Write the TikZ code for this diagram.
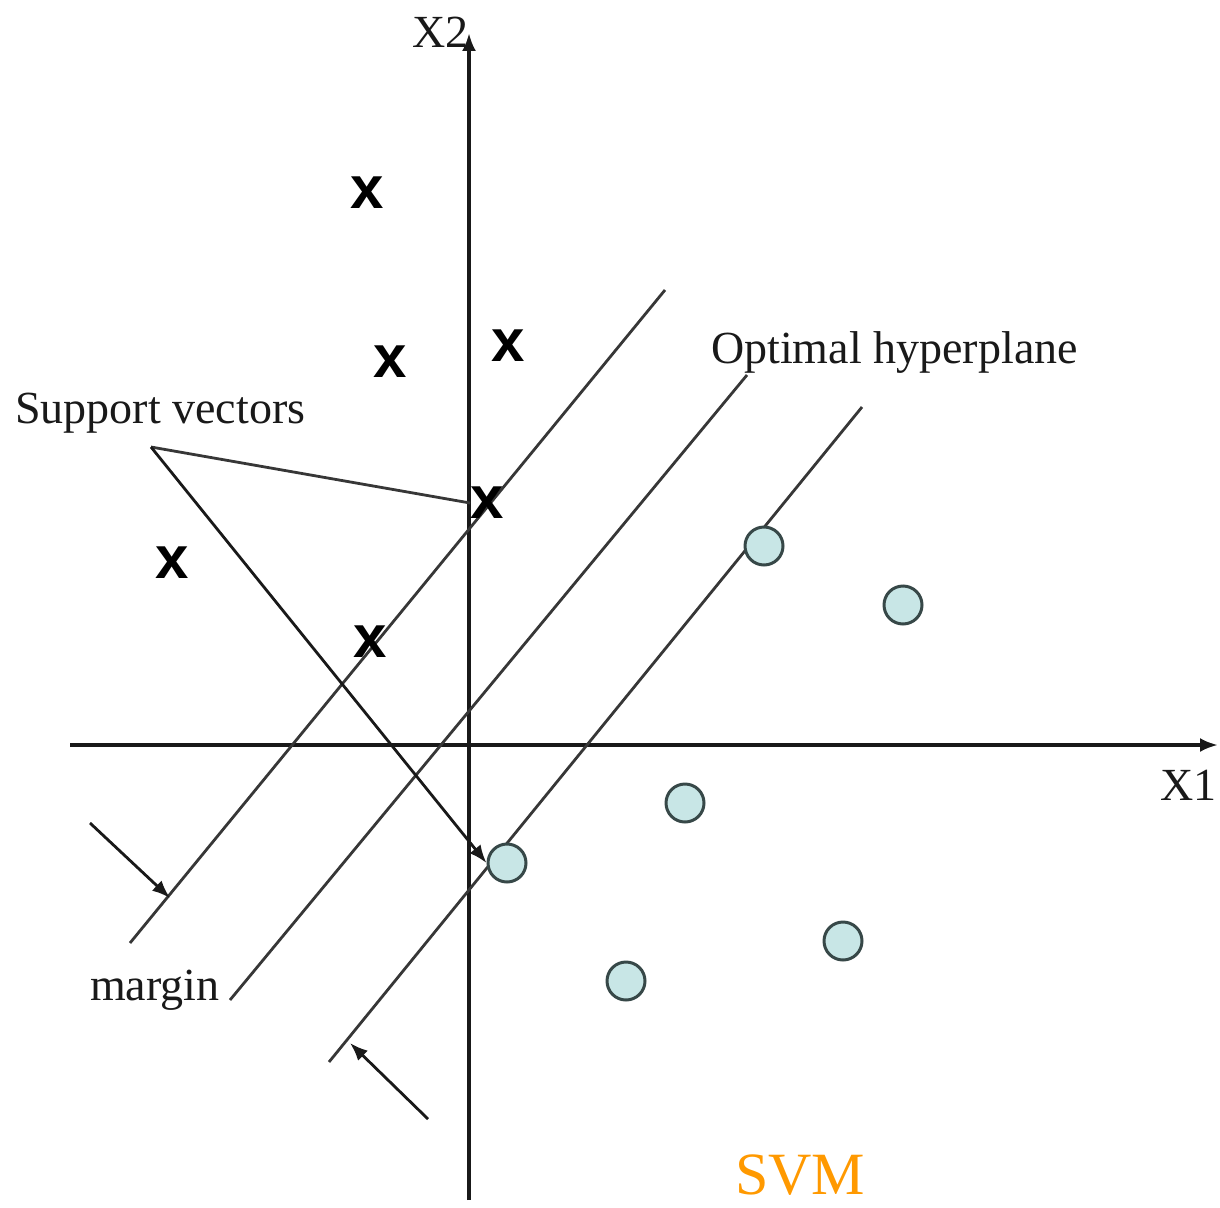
\documentclass[tikz,border=0pt]{standalone}
\usepackage{fontspec}
\setmainfont{Liberation Serif}
\setsansfont{Liberation Sans}
\usetikzlibrary{arrows.meta}
\definecolor{Ink}{RGB}{25,25,25}
\definecolor{Rule}{RGB}{55,55,55}
\definecolor{SoftCyan}{RGB}{200,230,230}
\definecolor{DotEdge}{RGB}{55,72,72}
\definecolor{Orange}{RGB}{255,153,0}
\tikzset{
  >={Latex[length=18pt,width=14pt]},
  axis/.style={->,line width=3.5pt,draw=Ink},
  plane/.style={line width=2.8pt,draw=Rule},
  pointer/.style={->,line width=2.8pt,draw=Ink},
  cross/.style={font=\fontsize{60}{62}\sffamily\bfseries,inner sep=0pt,text=black},
  dot/.style={circle,draw=DotEdge,line width=3pt,fill=SoftCyan,minimum size=38pt,inner sep=0pt},
  txt/.style={font=\fontsize{46}{50}\selectfont,text=Ink,inner sep=0pt,anchor=base west},
  title/.style={font=\fontsize{60}{64}\selectfont,text=Orange,inner sep=0pt,anchor=base west}
}
\begin{document}
\begin{tikzpicture}[x=1pt,y=-1pt]
  \useasboundingbox (0,0) rectangle (1220,1207);
  \coordinate (xlo) at (70,745);
  \coordinate (xhi) at (1218,745);
  \coordinate (ylo) at (469,1200);
  \coordinate (yhi) at (469,33);
  \draw[axis] (xlo)--(xhi);
  \draw[axis] (ylo)--(yhi);
  \node[txt] (xtwo) at (412,48) {X2};
  \node[txt] (xone) at (1160,800) {X1};
  \coordinate (upA) at (130,943);  \coordinate (upB) at (665,290);
  \coordinate (midA) at (230,1000); \coordinate (midB) at (747,375);
  \coordinate (lowA) at (329,1062); \coordinate (lowB) at (862,407);
  \foreach \a/\b in {upA/upB,midA/midB,lowA/lowB}{\draw[plane] (\a)--(\b);}
  \foreach \n/\x/\y in {xa/367/193,xb/390/362,xc/508/346,xd/487/503,xe/172/563,xf/370/642}
    \node[cross] (\n) at (\x,\y) {x};
  \foreach \n/\x/\y in {ca/764/546,cb/903/605,cc/685/803,cd/507/863,ce/843/941,cf/626/981}
    \node[dot] (\n) at (\x,\y) {};
  \node[txt] (support) at (15,423) {Support vectors};
  \node[txt] (optimal) at (711,363) {Optimal hyperplane};
  \node[txt] (margin) at (90,1000) {margin};
  \coordinate (svtip) at (151,447);
  \draw[plane] (svtip)--(xd.west);
  \draw[pointer] (svtip)--(cd.west);
  \coordinate (mgA) at (90,823);   \coordinate (mgAend) at (170,898);
  \coordinate (mgB) at (428,1119); \coordinate (mgBend) at (350,1043);
  \draw[pointer] (mgA)--(mgAend);
  \draw[pointer] (mgB)--(mgBend);
  \node[title] (svm) at (735,1194) {SVM};
\end{tikzpicture}
\end{document}
